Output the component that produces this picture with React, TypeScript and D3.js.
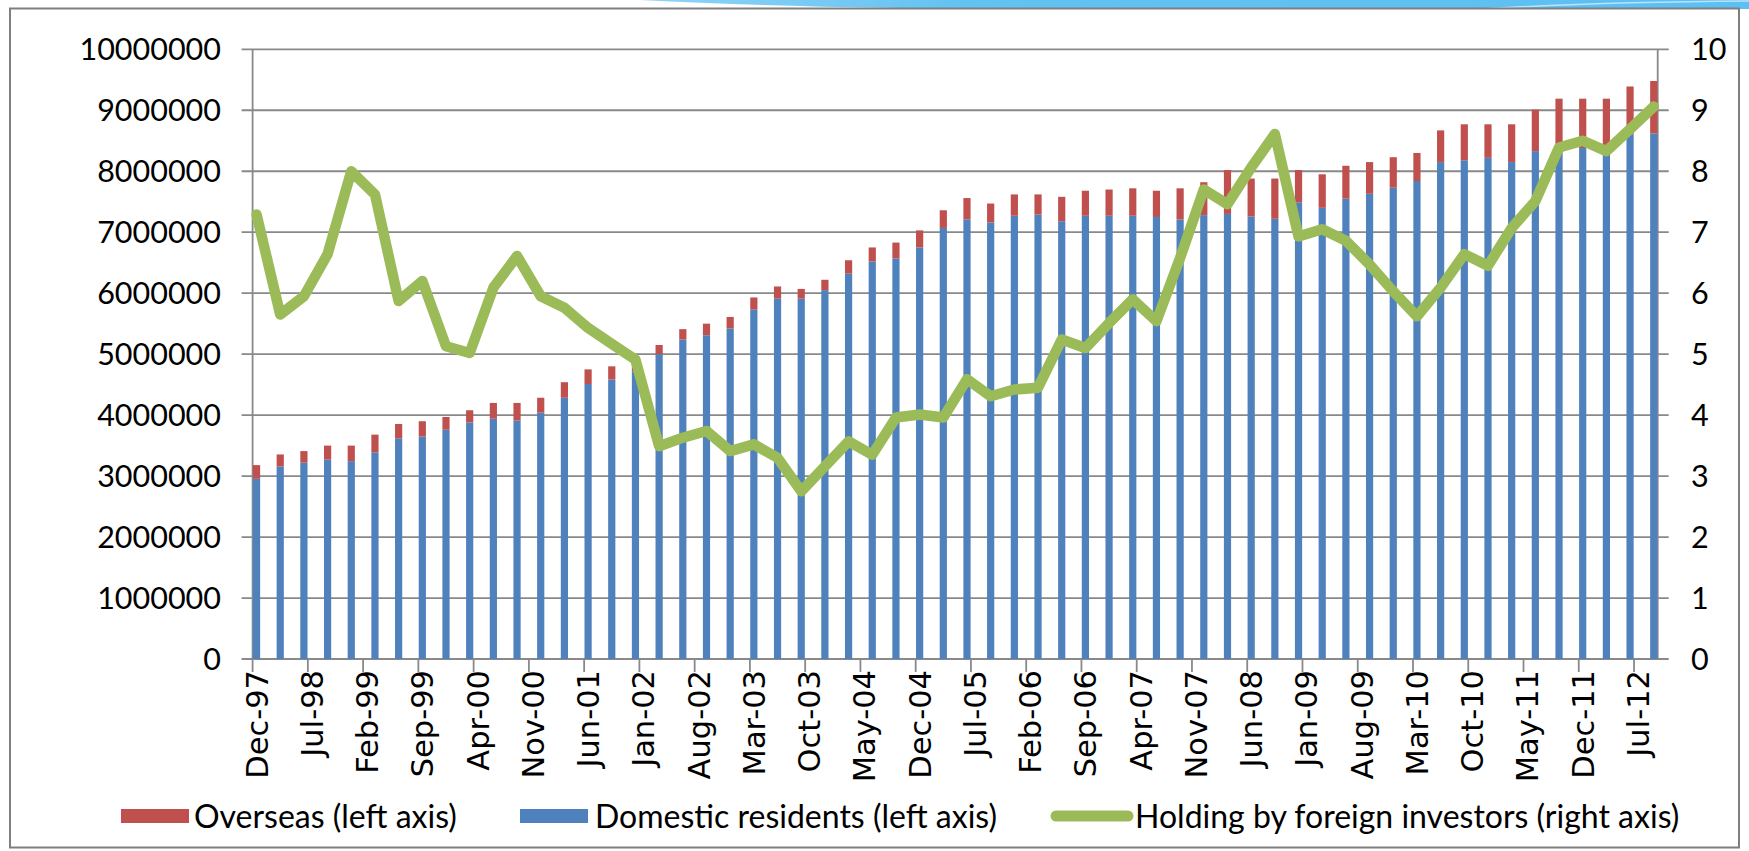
import React from "react";
import * as d3 from "d3";

// Quarter-end observations, Dec-97 .. Sep-12 (month offset from Dec-97 = index*3)
const quarters = [
  "Dec-97","Mar-98","Jun-98","Sep-98","Dec-98","Mar-99","Jun-99","Sep-99","Dec-99","Mar-00",
  "Jun-00","Sep-00","Dec-00","Mar-01","Jun-01","Sep-01","Dec-01","Mar-02","Jun-02","Sep-02",
  "Dec-02","Mar-03","Jun-03","Sep-03","Dec-03","Mar-04","Jun-04","Sep-04","Dec-04","Mar-05",
  "Jun-05","Sep-05","Dec-05","Mar-06","Jun-06","Sep-06","Dec-06","Mar-07","Jun-07","Sep-07",
  "Dec-07","Mar-08","Jun-08","Sep-08","Dec-08","Mar-09","Jun-09","Sep-09","Dec-09","Mar-10",
  "Jun-10","Sep-10","Dec-10","Mar-11","Jun-11","Sep-11","Dec-11","Mar-12","Jun-12","Sep-12",
];

const domestic = [
  2955000,3158000,3220000,3270000,3245000,3390000,3620000,3650000,3760000,3880000,
  3940000,3910000,4040000,4285000,4510000,4585000,4720000,5000000,5240000,5310000,
  5420000,5730000,5910000,5910000,6050000,6320000,6520000,6570000,6750000,7070000,
  7210000,7160000,7270000,7290000,7180000,7270000,7270000,7270000,7250000,7210000,
  7280000,7300000,7260000,7220000,7490000,7400000,7550000,7630000,7730000,7840000,
  8150000,8180000,8220000,8150000,8330000,8420000,8380000,8300000,8600000,8620000,
];

const overseas = [
  225000,197000,190000,230000,255000,290000,235000,250000,210000,200000,
  260000,290000,245000,255000,240000,215000,160000,150000,170000,190000,
  190000,200000,200000,160000,170000,220000,230000,260000,280000,290000,
  350000,310000,350000,330000,400000,410000,430000,450000,430000,510000,
  540000,720000,620000,660000,530000,550000,540000,520000,500000,460000,
  520000,590000,550000,620000,680000,770000,810000,890000,790000,860000,
];

const foreignHolding = [
  7.29,5.65,5.95,6.64,8.00,7.62,5.87,6.20,5.13,5.02,
  6.09,6.61,5.95,5.76,5.43,5.17,4.91,3.49,3.63,3.74,
  3.41,3.52,3.30,2.75,3.16,3.57,3.35,3.96,4.01,3.96,
  4.59,4.31,4.42,4.45,5.24,5.10,5.51,5.90,5.54,6.58,
  7.70,7.46,8.06,8.61,6.93,7.05,6.86,6.47,6.03,5.62,
  6.09,6.64,6.45,7.07,7.51,8.39,8.50,8.33,8.69,9.06,
];

const xTickLabels = [
  "Dec-97","Jul-98","Feb-99","Sep-99","Apr-00","Nov-00","Jun-01","Jan-02","Aug-02","Mar-03",
  "Oct-03","May-04","Dec-04","Jul-05","Feb-06","Sep-06","Apr-07","Nov-07","Jun-08","Jan-09",
  "Aug-09","Mar-10","Oct-10","May-11","Dec-11","Jul-12",
];

const leftTicks = [0,1000000,2000000,3000000,4000000,5000000,6000000,7000000,8000000,9000000,10000000];
const rightTicks = [0,1,2,3,4,5,6,7,8,9,10];

const legendItems = [
  { label: "Overseas (left axis)", color: "#C0504D", kind: "rect" },
  { label: "Domestic residents (left axis)", color: "#4F81BD", kind: "rect" },
  { label: "Holding by foreign investors (right axis)", color: "#9BBB59", kind: "line" },
];

const W = 1749;
const H = 851;
const PL = 252.6;
const PR = 1657.7;
const PT = 49.3;
const PB = 659;
const TOTAL_MONTHS = 178;
const GRID = "#898989";
const FONT = "Lato, 'Open Sans', sans-serif";

export default function App() {
  const x = d3.scaleLinear().domain([0, TOTAL_MONTHS]).range([PL, PR]);
  const yL = d3.scaleLinear().domain([0, 10000000]).range([PB, PT]);
  const yR = d3.scaleLinear().domain([0, 10]).range([PB, PT]);
  const barW = 7.2;
  const cx = (i: number) => x(i * 3 + 0.5);

  const line = d3
    .line<number>()
    .x((_, i) => cx(i))
    .y((d) => yR(d));

  const legendPos = [
    { sx: 121, tx: 194 },
    { sx: 520, tx: 595 },
    { sx: 1056, tx: 1135 },
  ];

  return (
    <svg
      width={W}
      height={H}
      style={{ position: "absolute", left: 0, top: 0, background: "#fff" }}
    >
      {/* decorative slide band */}
      <defs>
        <linearGradient id="band" x1="0" x2="1" y1="0" y2="0">
          <stop offset="0" stopColor="#8fd3f7" />
          <stop offset="0.3" stopColor="#62c2f2" />
          <stop offset="1" stopColor="#5dbff2" />
        </linearGradient>
      </defs>
      <path d="M 640 0 Q 820 9 1050 9 L 1749 9 L 1749 0 Z" fill="url(#band)" />
      <path d="M 1480 9 Q 1600 2 1749 1" fill="none" stroke="#b9e4fb" strokeWidth={1.5} />

      {/* frame */}
      <rect x={10} y={8.5} width={1729} height={839} fill="#fff" stroke="#7f7f7f" strokeWidth={2} />

      {/* gridlines & left ticks */}
      {leftTicks.map((t) => (
        <line key={"g" + t} x1={PL - 11} x2={PR + 11} y1={yL(t)} y2={yL(t)} stroke={GRID} strokeWidth={1.8} />
      ))}
      {/* axes */}
      <line x1={PL} x2={PL} y1={PT} y2={PB} stroke={GRID} strokeWidth={1.8} />
      <line x1={PR} x2={PR} y1={PT} y2={PB} stroke={GRID} strokeWidth={1.8} />

      {/* x ticks */}
      {xTickLabels.map((_, k) => (
        <line key={"xt" + k} x1={x(k * 7)} x2={x(k * 7)} y1={PB} y2={PB + 13} stroke={GRID} strokeWidth={1.8} />
      ))}

      {/* bars */}
      {quarters.map((q, i) => (
        <g key={q}>
          <rect x={cx(i) - barW / 2} y={yL(domestic[i])} width={barW} height={yL(0) - yL(domestic[i])} fill="#4F81BD" />
          <rect
            x={cx(i) - barW / 2}
            y={yL(domestic[i] + overseas[i])}
            width={barW}
            height={yL(domestic[i]) - yL(domestic[i] + overseas[i])}
            fill="#C0504D"
          />
        </g>
      ))}

      {/* line */}
      <path
        d={line(foreignHolding) || ""}
        fill="none"
        stroke="#9BBB59"
        strokeWidth={10.5}
        strokeLinejoin="round"
        strokeLinecap="round"
      />

      {/* left labels */}
      {leftTicks.map((t) => (
        <text key={"ll" + t} x={221} y={yL(t)} dy="0.36em" textAnchor="end" fontFamily={FONT} fontSize={30.5} fill="#000">
          {t}
        </text>
      ))}
      {/* right labels */}
      {rightTicks.map((t) => (
        <text key={"rl" + t} x={1691} y={yR(t)} dy="0.36em" textAnchor="start" fontFamily={FONT} fontSize={30.5} fill="#000">
          {t}
        </text>
      ))}

      {/* x labels */}
      {xTickLabels.map((lab, k) => {
        const px = x(k * 7 + 0.5);
        const py = 670;
        return (
          <text
            key={"xl" + k}
            x={px}
            y={py}
            transform={`rotate(-90 ${px} ${py})`}
            textAnchor="end"
            dy="0.36em"
            fontFamily="'DejaVu Sans', Verdana, sans-serif"
            fontSize={30.5}
            fill="#000"
          >
            {lab}
          </text>
        );
      })}

      {/* legend */}
      {legendItems.map((it, i) => (
        <g key={it.label}>
          {it.kind === "rect" ? (
            <rect x={legendPos[i].sx} y={809} width={68} height={14} fill={it.color} />
          ) : (
            <line x1={legendPos[i].sx} x2={legendPos[i].sx + 72} y1={816} y2={816} stroke={it.color} strokeWidth={11} strokeLinecap="round" />
          )}
          <text x={legendPos[i].tx} y={816} dy="0.36em" fontFamily={FONT} fontSize={32} fill="#000">
            {it.label}
          </text>
        </g>
      ))}
    </svg>
  );
}
